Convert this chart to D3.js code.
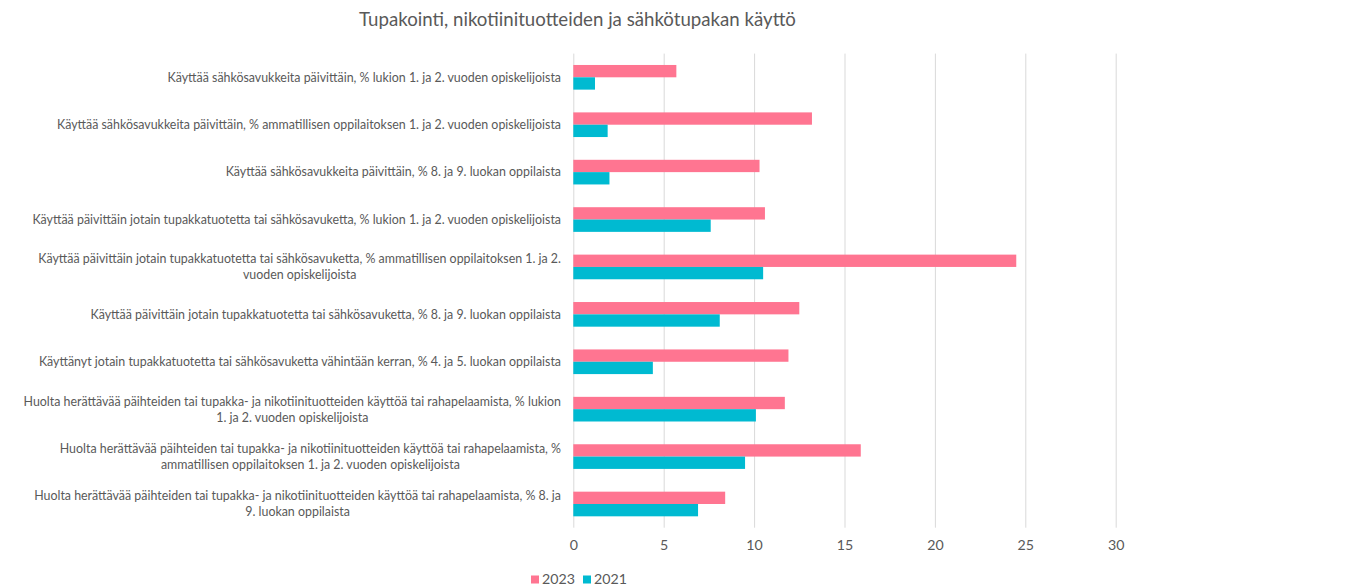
<!DOCTYPE html>
<html>
<head>
<meta charset="utf-8">
<script src="https://cdn.jsdelivr.net/npm/d3@7"></script>
<style>
  html, body { margin: 0; padding: 0; background: #ffffff; }
  svg { display: block; }
  text { font-family: Lato, "Liberation Sans", sans-serif; }
</style>
</head>
<body>
<svg id="chart" width="1365" height="586"></svg>
<script>
const title = "Tupakointi, nikotiinituotteiden ja sähkötupakan käyttö";

const categories = [
  "Käyttää sähkösavukkeita päivittäin, % lukion 1. ja 2. vuoden opiskelijoista",
  "Käyttää sähkösavukkeita päivittäin, % ammatillisen oppilaitoksen 1. ja 2. vuoden opiskelijoista",
  "Käyttää sähkösavukkeita päivittäin, % 8. ja 9. luokan oppilaista",
  "Käyttää päivittäin jotain tupakkatuotetta tai sähkösavuketta, % lukion 1. ja 2. vuoden opiskelijoista",
  "Käyttää päivittäin jotain tupakkatuotetta tai sähkösavuketta, % ammatillisen oppilaitoksen 1. ja 2.\nvuoden opiskelijoista",
  "Käyttää päivittäin jotain tupakkatuotetta tai sähkösavuketta, % 8. ja 9. luokan oppilaista",
  "Käyttänyt jotain tupakkatuotetta tai sähkösavuketta vähintään kerran, % 4. ja 5. luokan oppilaista",
  "Huolta herättävää päihteiden tai tupakka- ja nikotiinituotteiden käyttöä tai rahapelaamista, % lukion\n1. ja 2. vuoden opiskelijoista",
  "Huolta herättävää päihteiden tai tupakka- ja nikotiinituotteiden käyttöä tai rahapelaamista, %\nammatillisen oppilaitoksen 1. ja 2. vuoden opiskelijoista",
  "Huolta herättävää päihteiden tai tupakka- ja nikotiinituotteiden käyttöä tai rahapelaamista, % 8. ja\n9. luokan oppilaista"
];

const seriesNames = ["2023", "2021"];
const values2023 = [5.7, 13.2, 10.3, 10.6, 24.5, 12.5, 11.9, 11.7, 15.9, 8.4];
const values2021 = [1.2, 1.9, 2.0, 7.6, 10.5, 8.1, 4.4, 10.1, 9.5, 6.9];
const xTicks = [0, 5, 10, 15, 20, 25, 30];

const colors = { "2023": "#ff7591", "2021": "#00bad1" };
const seriesValues = { "2023": values2023, "2021": values2021 };

const svg = d3.select("#chart");
const textColor = "#595959";

const plot = { left: 573.3, right: 1115.7, top: 53.6, bottom: 527.7 };

const x = d3.scaleLinear().domain([0, 30]).range([plot.left, plot.right]);
const y0 = d3.scaleBand().domain(d3.range(categories.length))
  .range([plot.top, plot.bottom]).paddingInner(0.48).paddingOuter(0.24);
const y1 = d3.scaleBand().domain(seriesNames).range([0, y0.bandwidth()]);

// Title
svg.append("text")
  .attr("x", 577.5).attr("y", 26)
  .attr("text-anchor", "middle")
  .attr("font-size", 18.67)
  .attr("fill", textColor)
  .text(title);

// Gridlines and value axis
const xAxis = d3.axisBottom(x).tickValues(xTicks).tickSize(-(plot.bottom - plot.top)).tickPadding(12);
const gx = svg.append("g")
  .attr("transform", `translate(0,${plot.bottom})`)
  .call(xAxis);
gx.select(".domain").remove();
gx.selectAll(".tick line").attr("stroke", "#d9d9d9").attr("stroke-width", 1);
gx.selectAll(".tick text")
  .attr("font-family", "Lato, 'Liberation Sans', sans-serif")
  .attr("font-size", 14.2)
  .attr("fill", textColor);

// Bars
const groups = svg.append("g").selectAll("g")
  .data(categories.map((c, i) => i))
  .join("g")
  .attr("transform", i => `translate(0,${y0(i)})`);

groups.selectAll("rect")
  .data(i => seriesNames.map(s => ({ s, v: seriesValues[s][i] })))
  .join("rect")
  .attr("x", x(0))
  .attr("y", d => y1(d.s))
  .attr("width", d => x(d.v) - x(0))
  .attr("height", y1.bandwidth())
  .attr("fill", d => colors[d.s]);

// Category labels
const labelRight = 561;
const lineH = 16;
categories.forEach((c, i) => {
  const lines = c.split("\n");
  const cy = y0(i) + y0.bandwidth() / 2;
  const g = svg.append("g");
  const texts = lines.map((ln, k) => g.append("text")
    .attr("font-size", 12.4)
    .attr("fill", textColor)
    .attr("dy", "0.35em")
    .attr("y", cy + (k - (lines.length - 1) / 2) * lineH)
    .text(ln));
  if (lines.length === 1) {
    texts[0].attr("x", labelRight).attr("text-anchor", "end");
  } else {
    const maxW = d3.max(texts, t => t.node().getComputedTextLength());
    const cx = labelRight - maxW / 2;
    texts.forEach(t => t.attr("x", cx).attr("text-anchor", "middle"));
  }
});

// Legend
const legend = svg.append("g");
const legendItems = [
  { s: "2023", x: 531 },
  { s: "2021", x: 583 }
];
legendItems.forEach(it => {
  legend.append("rect")
    .attr("x", it.x).attr("y", 575.5)
    .attr("width", 8).attr("height", 8)
    .attr("fill", colors[it.s]);
  legend.append("text")
    .attr("x", it.x + 11).attr("y", 583.5)
    .attr("font-size", 14.2)
    .attr("fill", textColor)
    .text(it.s);
});
</script>
</body>
</html>
